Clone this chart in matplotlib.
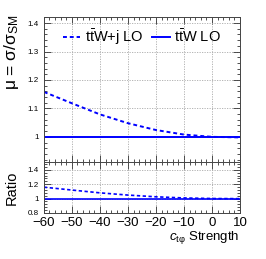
import numpy as np
import matplotlib
matplotlib.use("Agg")
import matplotlib.pyplot as plt
from matplotlib.ticker import AutoMinorLocator

plt.rcParams['font.family'] = ['Liberation Sans', 'DejaVu Sans']
plt.rcParams['mathtext.fontset'] = 'custom'
plt.rcParams['mathtext.rm'] = 'Liberation Sans'
plt.rcParams['mathtext.it'] = 'Liberation Sans:italic'
plt.rcParams['mathtext.sf'] = 'Liberation Sans'

# data
c_tphi = [-60, -50, -40, -30, -20, -10, 0, 10]
mu_ttwj = [1.158, 1.118, 1.079, 1.048, 1.024, 1.008, 1.000, 0.998]
mu_ttw = [1.0, 1.0, 1.0, 1.0, 1.0, 1.0, 1.0, 1.0]
ratio_ttwj = [a / b for a, b in zip(mu_ttwj, mu_ttw)]
ratio_ttw = [1.0] * len(c_tphi)

x_ticks = [-60, -50, -40, -30, -20, -10, 0, 10]
x_labels = ['\u221260', '\u221250', '\u221240', '\u221230', '\u221220', '\u221210', '0', '10']

blue = (0, 0, 1)

fig = plt.figure(figsize=(2.66, 2.59), dpi=100)
ax1 = fig.add_axes([0.165, 0.375, 0.737, 0.559])
ax2 = fig.add_axes([0.165, 0.178, 0.737, 0.197])

ax1.plot(c_tphi, mu_ttwj, color=blue, lw=1.4, ls=(0, (2, 1.5)), label=r'$\mathrm{t\bar{t}W}$+j LO')
ax1.plot(c_tphi, mu_ttw, color=blue, lw=1.4, label=r'$\mathrm{t\bar{t}W}$ LO')
ax2.plot(c_tphi, ratio_ttwj, color=blue, lw=1.2, ls=(0, (2, 1.5)))
ax2.plot(c_tphi, ratio_ttw, color=blue, lw=1.2)

for ax in (ax1, ax2):
    ax.set_xlim(-60, 10)
    ax.set_xticks(x_ticks)
    ax.grid(True, ls=(0, (1.5, 1.5)), color='#aaaaaa', lw=0.6)
    ax.xaxis.set_minor_locator(AutoMinorLocator(5))
    ax.yaxis.set_minor_locator(AutoMinorLocator(5))
    ax.tick_params(which='both', direction='in', top=True, right=True, width=0.6, color='#333333')
    for s in ax.spines.values():
        s.set_linewidth(0.7)
        s.set_color('#444444')

ax1.set_ylim(0.912, 1.421)
ax2.set_ylim(0.8, 1.51)

ax1.set_yticks([1.0, 1.1, 1.2, 1.3, 1.4])
ax1.set_yticklabels(['1', '1.1', '1.2', '1.3', '1.4'])
ax1.tick_params(which='major', length=5, labelsize=5.8)
ax1.tick_params(which='minor', length=2.5)
ax1.tick_params(axis='x', labelbottom=False)

ax2.set_yticks([0.8, 1.0, 1.2, 1.4])
ax2.set_yticklabels(['0.8', '1', '1.2', '1.4'])
ax2.set_xticklabels(x_labels)
ax2.tick_params(which='major', length=5, labelsize=5.8)
ax2.tick_params(axis='x', labelsize=9.5, pad=3)
ax2.tick_params(which='minor', length=2.5)

ax1.legend(loc='upper center', bbox_to_anchor=(0.5, 0.97), ncol=2, frameon=False,
           fontsize=10.5, handlelength=1.2, handletextpad=0.3, columnspacing=0.6,
           borderaxespad=0)

fig.text(0.045, 0.945, '\u03bc = \u03c3/\u03c3$_{\\mathrm{SM}}$', rotation=90, ha='center', va='top', fontsize=12.5)
fig.text(0.045, 0.275, 'Ratio', rotation=90, ha='center', va='center', fontsize=10.5)
fig.text(0.902, 0.075, r'$c_{\mathrm{t\varphi}}$ Strength', ha='right', va='baseline', fontsize=9.5)

fig.savefig('out.png', dpi=100)
